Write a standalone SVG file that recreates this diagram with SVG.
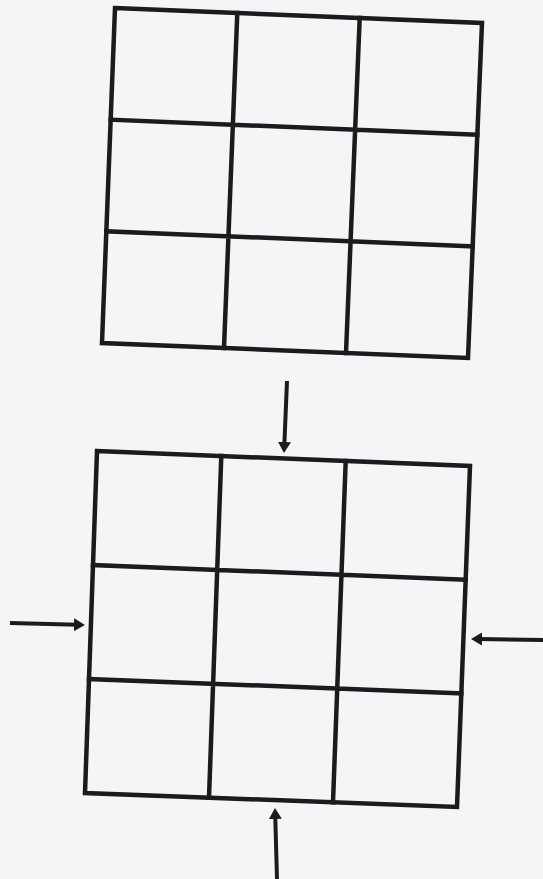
<svg xmlns="http://www.w3.org/2000/svg" width="543" height="879" viewBox="0 0 543 879">
  <style>
    .grid { fill: none; stroke: #1d1a1c; stroke-width: 4.5; stroke-linejoin: miter; stroke-linecap: square; }
    .conn { stroke: #1d1a1c; stroke-width: 4; fill: none; }
  </style>
  <defs>
    <marker id="arrow" markerUnits="userSpaceOnUse" markerWidth="12" markerHeight="13" refX="4" refY="6.5" orient="auto">
      <path d="M0,0 L11,6.5 L0,13 Z" fill="#1d1a1c"/>
    </marker>
  </defs>
  <rect x="0" y="0" width="543" height="879" fill="#f5f5f7"/>
  <g id="grid-top">
    <path class="grid" d="M115,8 L482,23 L468,358 L102,343 Z"/>
    <path class="grid" d="M237.3,13 L224,348 M359.7,18 L346,353 M110.7,119.7 L477.3,134.7 M106.3,231.3 L472.7,246.3"/>
  </g>
  <g id="grid-bottom">
    <path class="grid" d="M97,451 L470,466 L457,807 L85,793 Z"/>
    <path class="grid" d="M221.3,456 L209,797.7 M345.7,461 L333,802.3 M93,565 L465.7,579.7 M89,679 L461.3,693.3"/>
  </g>
  <g id="connectors">
    <line class="conn" x1="287" y1="381" x2="284.3" y2="446" marker-end="url(#arrow)"/>
    <line class="conn" x1="10" y1="623" x2="78" y2="624.8" marker-end="url(#arrow)"/>
    <line class="conn" x1="543" y1="640" x2="478" y2="639" marker-end="url(#arrow)"/>
    <line class="conn" x1="277" y1="879" x2="275.2" y2="815" marker-end="url(#arrow)"/>
  </g>
</svg>
